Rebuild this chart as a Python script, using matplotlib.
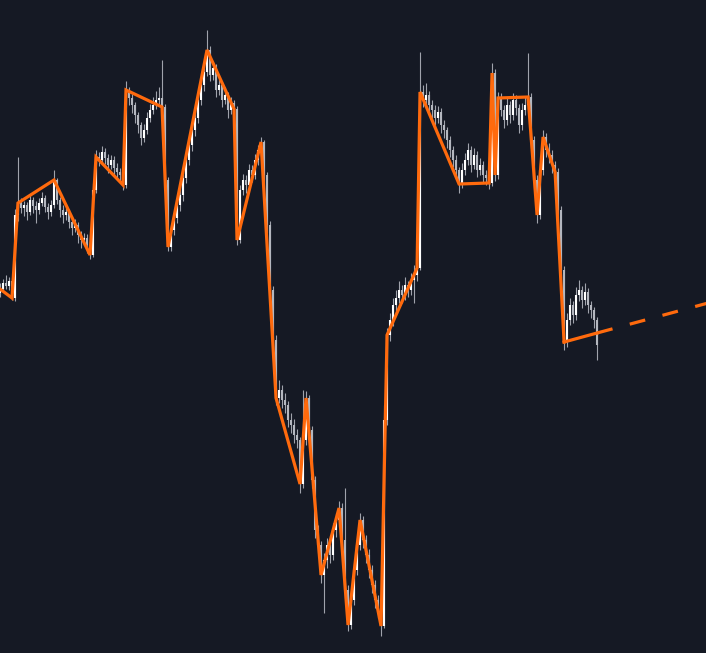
import numpy as np
import matplotlib
matplotlib.use("Agg")
import matplotlib.pyplot as plt

# Candle data (one bar every ~3 px in the picture), prices in chart units
opens = [360, 364, 370, 367, 372, 355, 438, 450, 445, 448,
         441, 453, 447, 443, 450, 455, 446, 441, 448, 473,
         453, 443, 438, 441, 431, 425, 428, 418, 413, 415,
         408, 398, 463, 496, 493, 501, 495, 488, 493, 485,
         481, 478, 468, 563, 555, 548, 538, 528, 515, 523,
         535, 543, 548, 553, 555, 546, 473, 406, 423, 435,
         448, 458, 475, 493, 508, 523, 535, 553, 568, 581,
         603, 578, 585, 563, 568, 553, 558, 543, 550, 544,
         413, 463, 473, 468, 483, 478, 493, 503, 511, 478,
         428, 363, 313, 255, 263, 253, 248, 233, 228, 218,
         213, 169, 213, 255, 223, 173, 123, 108, 78, 93,
         108, 98, 123, 133, 145, 113, 63, 28, 53, 83,
         108, 133, 113, 98, 83, 68, 53, 43, 27, 233,
         318, 333, 348, 355, 363, 358, 368, 363, 373, 378,
         385, 561, 553, 558, 548, 543, 535, 541, 528, 523,
         513, 503, 493, 483, 469, 483, 493, 503, 488, 498,
         483, 488, 478, 475, 470, 580, 478, 555, 543, 533,
         548, 538, 553, 545, 528, 543, 548, 556, 513, 473,
         438, 483, 516, 503, 498, 488, 481, 443, 383, 311,
         333, 348, 338, 358, 363, 353, 361, 348, 343, 333]

closes = [364, 370, 367, 372, 355, 438, 450, 445, 448, 441,
          453, 447, 443, 450, 455, 446, 441, 448, 473, 453,
          443, 438, 441, 431, 425, 428, 418, 413, 415, 408,
          398, 463, 496, 493, 501, 495, 488, 493, 485, 481,
          478, 468, 563, 555, 548, 538, 528, 515, 523, 535,
          543, 548, 553, 555, 546, 473, 406, 423, 435, 448,
          458, 475, 493, 508, 523, 535, 553, 568, 581, 603,
          578, 585, 563, 568, 553, 558, 543, 550, 544, 413,
          463, 473, 468, 483, 478, 493, 503, 511, 478, 428,
          363, 313, 255, 263, 253, 248, 233, 228, 218, 213,
          169, 213, 255, 223, 173, 123, 108, 78, 93, 108,
          98, 123, 133, 145, 113, 63, 28, 53, 83, 108,
          133, 113, 98, 83, 68, 53, 43, 27, 233, 318,
          333, 348, 355, 363, 358, 368, 363, 373, 378, 385,
          561, 553, 558, 548, 543, 535, 541, 528, 523, 513,
          503, 493, 483, 469, 483, 493, 503, 488, 498, 483,
          488, 478, 475, 470, 580, 478, 555, 543, 533, 548,
          538, 553, 545, 528, 543, 548, 556, 513, 473, 438,
          483, 516, 503, 498, 488, 481, 443, 383, 311, 333,
          348, 338, 358, 363, 353, 361, 348, 343, 333, 308]

highs = [370, 374, 378, 376, 375, 444, 496, 455, 452, 451,
         458, 456, 452, 455, 461, 458, 450, 453, 483, 475,
         456, 448, 446, 444, 436, 434, 431, 422, 420, 419,
         412, 470, 503, 501, 507, 505, 499, 498, 497, 490,
         485, 481, 572, 566, 559, 551, 541, 531, 529, 541,
         549, 556, 562, 566, 593, 549, 476, 428, 440, 453,
         465, 481, 500, 514, 530, 542, 560, 575, 590, 623,
         607, 592, 589, 576, 571, 566, 561, 556, 553, 547,
         468, 479, 478, 489, 488, 499, 508, 516, 513, 481,
         432, 367, 318, 273, 268, 260, 252, 240, 234, 224,
         216, 263, 262, 258, 227, 177, 128, 112, 100, 115,
         118, 130, 140, 152, 150, 165, 68, 60, 90, 115,
         140, 137, 118, 104, 88, 73, 58, 48, 248, 325,
         340, 355, 363, 372, 368, 376, 372, 380, 388, 395,
         601, 568, 570, 562, 553, 548, 547, 545, 533, 526,
         517, 507, 498, 486, 490, 500, 510, 507, 505, 502,
         495, 492, 483, 479, 590, 584, 561, 560, 548, 556,
         552, 560, 558, 549, 550, 556, 600, 560, 517, 478,
         490, 523, 520, 510, 503, 492, 485, 447, 387, 340,
         355, 352, 366, 373, 367, 370, 365, 352, 346, 336]

lows = [356, 361, 364, 363, 353, 352, 432, 440, 437, 433,
        438, 440, 430, 439, 447, 441, 434, 437, 445, 449,
        436, 430, 433, 425, 418, 421, 410, 405, 408, 400,
        394, 396, 460, 487, 489, 489, 480, 484, 478, 474,
        472, 463, 465, 548, 540, 530, 520, 508, 511, 519,
        531, 539, 544, 549, 540, 468, 402, 402, 418, 430,
        442, 452, 470, 488, 502, 517, 530, 548, 562, 577,
        572, 573, 556, 558, 546, 549, 535, 539, 520, 408,
        410, 458, 460, 463, 471, 474, 488, 497, 470, 420,
        355, 305, 248, 250, 245, 240, 226, 220, 210, 205,
        160, 165, 208, 215, 165, 115, 100, 70, 40, 85,
        90, 93, 116, 126, 105, 55, 22, 24, 48, 78,
        103, 105, 90, 75, 60, 45, 35, 17, 25, 228,
        312, 327, 342, 350, 350, 353, 356, 358, 350, 372,
        383, 546, 548, 540, 535, 528, 530, 520, 515, 505,
        496, 486, 476, 460, 465, 478, 488, 481, 484, 476,
        478, 470, 468, 464, 467, 472, 474, 537, 525, 528,
        530, 533, 538, 520, 523, 538, 543, 505, 465, 430,
        434, 478, 496, 490, 480, 474, 436, 375, 303, 306,
        328, 330, 333, 352, 345, 348, 340, 335, 325, 293]

# Zigzag pivots (bar index, price)
pivot_bars = [0, 4, 6, 18, 30, 32, 41, 42, 54, 56, 69, 78, 79, 87, 92, 100,
              102, 107, 113, 116, 120, 127, 129, 139, 140, 153, 163, 164, 165,
              166, 176, 179, 181, 185, 188]
pivot_prices = [364, 355, 450, 473, 398, 496, 468, 563, 546, 406, 603, 544,
                413, 511, 255, 169, 255, 78, 145, 28, 133, 27, 318, 385, 561,
                469, 470, 580, 478, 555, 556, 438, 516, 481, 311]

# Last leg: solid up to the last bar, then dashed projection
proj_bars = [188, 199, 236]
proj_prices = [311, 320, 350]

bg = "#151924"
orange = "#ff6a0d"

fig = plt.figure(figsize=(7.06, 6.53), dpi=100, facecolor=bg)
ax = fig.add_axes([0, 0, 1, 1])
ax.set_facecolor(bg)

x = np.arange(len(closes))
o = np.array(opens)
c = np.array(closes)
up = c >= o

# wicks
ax.vlines(x, lows, highs, color="#a0a3ac", linewidth=0.8, zorder=1)
# bodies
ax.vlines(x[up], o[up], c[up], color="#ffffff", linewidth=1.5, zorder=2)
ax.vlines(x[~up], c[~up], o[~up], color="#b4b7bf", linewidth=1.5, zorder=2)

# zigzag
ax.plot(pivot_bars, pivot_prices, color=orange, linewidth=2.3,
        solid_joinstyle="miter", zorder=3)
ax.plot(proj_bars[:2], proj_prices[:2], color=orange, linewidth=2.3, zorder=3)
ax.plot(proj_bars[1:], proj_prices[1:], color=orange, linewidth=2.3,
        dashes=(5.0, 5.6), zorder=3)

ax.set_xlim(0, 235.3)
ax.set_ylim(0, 653)
ax.axis("off")

fig.savefig("out.png", dpi=100, facecolor=bg)
